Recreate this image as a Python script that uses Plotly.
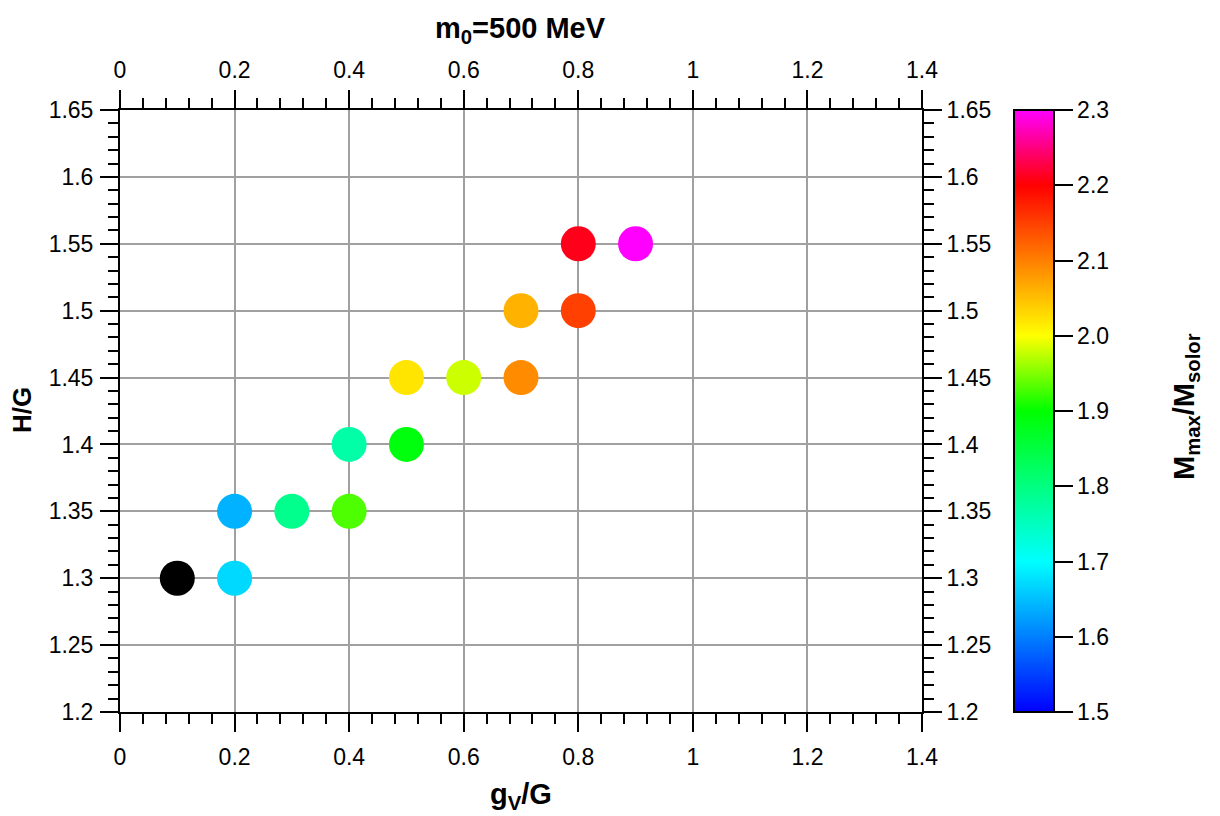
import plotly.graph_objects as go

# g_V/G, H/G and M_max/M_solar
gv_over_g = [0.2, 0.2, 0.3, 0.4, 0.4, 0.5, 0.5, 0.6, 0.7, 0.7, 0.8, 0.8, 0.9]
h_over_g = [1.30, 1.35, 1.35, 1.35, 1.40, 1.40, 1.45, 1.45, 1.45, 1.50, 1.50, 1.55, 1.55]
m_max = [1.67, 1.64, 1.79, 1.93, 1.77, 1.89, 2.02, 1.98, 2.09, 2.06, 2.15, 2.21, 2.30]

# point drawn in black (outside the colour range)
gv_black = [0.1]
h_black = [1.30]

x_ticks = [0, 0.2, 0.4, 0.6, 0.8, 1.0, 1.2, 1.4]
y_ticks = [1.2, 1.25, 1.3, 1.35, 1.4, 1.45, 1.5, 1.55, 1.6, 1.65]
cbar_ticks = [1.5, 1.6, 1.7, 1.8, 1.9, 2.0, 2.1, 2.2, 2.3]

FONT = "Liberation Sans"

# page body has an 8px margin, so the figure is 8px smaller and shifted
OFF = 8
L, T, PW, PH = 120 - OFF, 110 - OFF, 802, 602
W, H = 1220 - OFF, 816 - OFF


def px_x(px):
    return (px - OFF - L) / PW


def px_y(py):
    return (T + PH - (py - OFF)) / PH


rainbow = [
    [0.0, "#0000ff"],
    [0.25, "#00ffff"],
    [0.5, "#00ff00"],
    [0.625, "#ffff00"],
    [0.875, "#ff0000"],
    [1.0, "#ff00ff"],
]

fig = go.Figure()

fig.add_trace(go.Scatter(
    x=gv_black, y=h_black, mode="markers",
    marker=dict(size=35, color="black"),
    showlegend=False,
))

fig.add_trace(go.Scatter(
    x=gv_over_g, y=h_over_g, mode="markers",
    marker=dict(
        size=35, color=m_max, colorscale=rainbow, cmin=1.5, cmax=2.3,
        colorbar=dict(
            x=px_x(1014), xanchor="left", xpad=0,
            y=0.5, yanchor="middle", len=1, lenmode="fraction", ypad=0,
            thickness=40, outlinewidth=2, outlinecolor="black",
            tickvals=cbar_ticks, tickformat=".1f",
            ticks="outside", ticklen=18, tickwidth=2, tickcolor="black",
            tickfont=dict(family=FONT, size=23, color="black"),
        ),
    ),
    showlegend=False,
))

# invisible copy to bring up the mirrored top / right axes
fig.add_trace(go.Scatter(
    x=gv_over_g, y=h_over_g, mode="markers", xaxis="x2", yaxis="y2",
    marker=dict(size=1, opacity=0), hoverinfo="skip", showlegend=False,
))

axis_common = dict(
    showline=True, linecolor="black", linewidth=2,
    ticks="outside", ticklen=18, tickwidth=2, tickcolor="black",
    tickfont=dict(family=FONT, size=23, color="black"),
    zeroline=False,
)

fig.update_layout(
    width=W, height=H,
    margin=dict(l=L, r=W - L - PW, t=T, b=H - T - PH),
    paper_bgcolor="white", plot_bgcolor="white",
    font=dict(family=FONT, color="black"),
    xaxis=dict(
        range=[0, 1.4], tickvals=x_ticks, ticklabelstandoff=5,
        showgrid=True, gridcolor="#a0a0a0", gridwidth=2,
        minor=dict(dtick=0.04, tick0=0, ticks="outside", ticklen=10,
                   tickwidth=2, tickcolor="black", showgrid=False),
        **axis_common,
    ),
    xaxis2=dict(
        range=[0, 1.4], tickvals=x_ticks, overlaying="x", side="top",
        showgrid=False, anchor="y", ticklabelstandoff=3,
        minor=dict(dtick=0.04, tick0=0, ticks="outside", ticklen=10,
                   tickwidth=2, tickcolor="black"),
        **axis_common,
    ),
    yaxis=dict(
        range=[1.2, 1.65], tickvals=y_ticks, ticklabelstandoff=2,
        showgrid=True, gridcolor="#a0a0a0", gridwidth=2,
        minor=dict(dtick=0.01, tick0=1.2, ticks="outside", ticklen=10,
                   tickwidth=2, tickcolor="black", showgrid=False),
        **axis_common,
    ),
    yaxis2=dict(
        range=[1.2, 1.65], tickvals=y_ticks, overlaying="y", side="right",
        showgrid=False, anchor="x",
        minor=dict(dtick=0.01, tick0=1.2, ticks="outside", ticklen=10,
                   tickwidth=2, tickcolor="black"),
        **axis_common,
    ),
    annotations=[
        dict(text="<b>m<sub>0</sub>=500 MeV</b>", xref="paper", yref="paper",
             x=px_x(520), y=px_y(30), xanchor="center", yanchor="middle",
             showarrow=False, font=dict(family=FONT, size=29, color="black")),
        dict(text="<b>g<sub>V</sub>/G</b>", xref="paper", yref="paper",
             x=px_x(521), y=px_y(796), xanchor="center", yanchor="middle",
             showarrow=False, font=dict(family=FONT, size=29, color="black")),
        dict(text="<b>H/G</b>", xref="paper", yref="paper", textangle=-90,
             x=px_x(22), y=px_y(410), xanchor="center", yanchor="middle",
             showarrow=False, font=dict(family=FONT, size=26, color="black")),
        dict(text="<b>M<sub>max</sub>/M<sub>solor</sub></b>", xref="paper", yref="paper",
             textangle=-90,
             x=px_x(1186), y=px_y(407), xanchor="center", yanchor="middle",
             showarrow=False, font=dict(family=FONT, size=29, color="black")),
    ],
)

fig.write_html("out.html")
